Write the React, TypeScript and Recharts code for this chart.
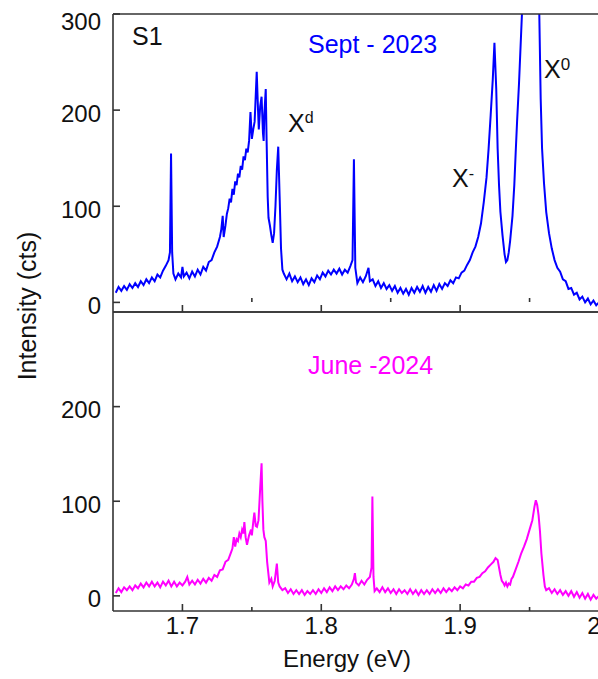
import { LineChart, Line, XAxis, YAxis } from 'recharts'

const FONT = '"Liberation Sans", Arial, sans-serif'
const AXIS = '#333'

// Sept 2023 spectrum, [energy (eV), intensity (cts)]
const sept2023: [number, number][] = [
  [1.652, 10], [1.654, 16], [1.656, 12], [1.658, 17], [1.66, 13], [1.662, 19], [1.664, 15], [1.666, 20],
  [1.668, 16], [1.67, 22], [1.672, 18], [1.674, 24], [1.676, 20], [1.678, 26], [1.68, 22], [1.682, 29],
  [1.684, 26], [1.686, 33], [1.688, 38], [1.69, 44], [1.691, 52], [1.6918, 155], [1.6926, 52], [1.6935, 30],
  [1.695, 24], [1.697, 30], [1.699, 26], [1.7, 37], [1.701, 27], [1.703, 31], [1.705, 25], [1.707, 32],
  [1.709, 27], [1.711, 34], [1.713, 29], [1.715, 37], [1.717, 33], [1.719, 42], [1.721, 44], [1.723, 52],
  [1.725, 58], [1.727, 68], [1.728, 76], [1.729, 90], [1.7297, 68], [1.731, 80], [1.732, 92], [1.733, 98],
  [1.734, 108], [1.735, 104], [1.736, 118], [1.737, 112], [1.738, 126], [1.739, 122], [1.74, 134], [1.741, 130],
  [1.742, 142], [1.743, 138], [1.744, 152], [1.745, 148], [1.746, 160], [1.747, 156], [1.748, 168], [1.749, 198],
  [1.75, 170], [1.751, 180], [1.752, 188], [1.7525, 205], [1.7535, 240], [1.7545, 198], [1.755, 180], [1.756, 204],
  [1.757, 214], [1.758, 176], [1.7585, 168], [1.759, 196], [1.76, 222], [1.7606, 170], [1.7614, 110], [1.762, 88],
  [1.763, 80], [1.764, 70], [1.765, 62], [1.766, 72], [1.767, 100], [1.768, 138], [1.769, 162], [1.77, 110],
  [1.771, 56], [1.772, 34], [1.773, 30], [1.775, 24], [1.777, 30], [1.779, 22], [1.781, 27], [1.783, 21],
  [1.785, 26], [1.787, 19], [1.789, 24], [1.791, 18], [1.793, 25], [1.795, 21], [1.797, 28], [1.799, 24],
  [1.801, 31], [1.803, 27], [1.805, 33], [1.807, 29], [1.809, 34], [1.811, 30], [1.813, 35], [1.815, 29],
  [1.817, 34], [1.819, 31], [1.821, 38], [1.8225, 44], [1.8235, 149], [1.8245, 36], [1.826, 20], [1.828, 26],
  [1.83, 21], [1.832, 27], [1.834, 36], [1.835, 22], [1.837, 24], [1.839, 17], [1.841, 22], [1.843, 15],
  [1.845, 20], [1.847, 14], [1.849, 18], [1.851, 12], [1.853, 17], [1.855, 10], [1.857, 15], [1.859, 9],
  [1.861, 14], [1.863, 8], [1.865, 15], [1.867, 10], [1.869, 16], [1.871, 11], [1.873, 17], [1.875, 10],
  [1.877, 16], [1.879, 11], [1.881, 18], [1.883, 12], [1.885, 19], [1.887, 14], [1.889, 20], [1.891, 17],
  [1.893, 23], [1.895, 20], [1.897, 26], [1.899, 25], [1.901, 31], [1.903, 33], [1.905, 39], [1.907, 44],
  [1.909, 52], [1.911, 58], [1.913, 68], [1.915, 82], [1.917, 104], [1.919, 130], [1.9205, 160], [1.922, 195],
  [1.9235, 232], [1.9247, 270], [1.926, 222], [1.927, 160], [1.928, 122], [1.929, 94], [1.9305, 70], [1.932, 50],
  [1.933, 42], [1.934, 44], [1.935, 52], [1.936, 64], [1.9377, 90], [1.939, 122], [1.94, 156], [1.941, 188],
  [1.9424, 228], [1.9448, 310], [1.947, 370], [1.949, 405], [1.951, 415], [1.953, 405], [1.955, 370], [1.957, 300],
  [1.958, 212], [1.959, 160], [1.9604, 124], [1.962, 94], [1.964, 72], [1.966, 56], [1.968, 44], [1.97, 36],
  [1.972, 32], [1.974, 24], [1.976, 22], [1.978, 14], [1.98, 15], [1.982, 8], [1.984, 10], [1.986, 3],
  [1.988, 6], [1.99, 0], [1.992, 4], [1.994, -2], [1.996, 2], [1.998, -3], [2.0, 0],
]

// June 2024 spectrum, [energy (eV), intensity (cts)]
const june2024: [number, number][] = [
  [1.652, 3], [1.654, 8], [1.656, 4], [1.658, 9], [1.66, 6], [1.662, 10], [1.664, 6], [1.666, 11],
  [1.668, 8], [1.67, 13], [1.672, 9], [1.674, 14], [1.676, 10], [1.678, 15], [1.68, 10], [1.682, 14],
  [1.684, 9], [1.686, 15], [1.688, 11], [1.69, 16], [1.692, 10], [1.694, 15], [1.696, 10], [1.698, 14],
  [1.7, 11], [1.702, 15], [1.7035, 20], [1.705, 12], [1.707, 16], [1.709, 12], [1.711, 17], [1.713, 13],
  [1.715, 18], [1.717, 14], [1.719, 19], [1.721, 16], [1.723, 22], [1.725, 20], [1.727, 27], [1.729, 28],
  [1.731, 36], [1.733, 38], [1.735, 46], [1.736, 50], [1.737, 62], [1.738, 52], [1.739, 60], [1.74, 58],
  [1.741, 66], [1.742, 62], [1.743, 70], [1.744, 66], [1.7446, 78], [1.7455, 62], [1.7465, 54], [1.748, 64],
  [1.7494, 70], [1.75, 64], [1.751, 78], [1.7518, 88], [1.7528, 74], [1.7537, 73], [1.7548, 80], [1.756, 114],
  [1.757, 140], [1.7576, 100], [1.7583, 70], [1.759, 62], [1.76, 58], [1.761, 36], [1.7626, 14], [1.764, 18],
  [1.765, 10], [1.7665, 16], [1.768, 34], [1.769, 14], [1.77, 10], [1.772, 6], [1.774, 8], [1.776, 3],
  [1.778, 7], [1.78, 2], [1.782, 6], [1.784, 2], [1.786, 6], [1.788, 1], [1.79, 5], [1.792, 2],
  [1.794, 6], [1.796, 2], [1.798, 7], [1.8, 3], [1.802, 8], [1.804, 4], [1.806, 9], [1.808, 5],
  [1.81, 10], [1.812, 6], [1.814, 10], [1.816, 7], [1.818, 11], [1.82, 8], [1.822, 12], [1.8235, 18],
  [1.8242, 24], [1.825, 14], [1.827, 11], [1.829, 16], [1.831, 12], [1.833, 17], [1.835, 20], [1.8362, 30],
  [1.8368, 105], [1.8376, 20], [1.8384, 5], [1.84, 8], [1.842, 4], [1.844, 9], [1.846, 4], [1.848, 8],
  [1.85, 3], [1.852, 7], [1.854, 2], [1.856, 7], [1.858, 3], [1.86, 6], [1.862, 2], [1.864, 7],
  [1.866, 2], [1.868, 6], [1.87, 1], [1.872, 6], [1.874, 2], [1.876, 6], [1.878, 2], [1.88, 7],
  [1.882, 3], [1.884, 7], [1.886, 3], [1.888, 8], [1.89, 4], [1.892, 8], [1.894, 5], [1.896, 9],
  [1.898, 6], [1.9, 10], [1.902, 8], [1.904, 12], [1.906, 11], [1.908, 15], [1.91, 15], [1.912, 19],
  [1.914, 20], [1.916, 24], [1.918, 26], [1.92, 30], [1.922, 33], [1.924, 36], [1.9255, 40], [1.927, 38],
  [1.928, 30], [1.929, 22], [1.93, 16], [1.931, 14], [1.932, 11], [1.933, 14], [1.934, 10], [1.935, 13],
  [1.936, 12], [1.937, 18], [1.938, 20], [1.94, 28], [1.942, 36], [1.944, 45], [1.946, 52], [1.948, 60],
  [1.95, 70], [1.952, 80], [1.9535, 94], [1.9545, 101], [1.9555, 96], [1.9565, 85], [1.9575, 68], [1.9585, 45],
  [1.96, 22], [1.961, 10], [1.962, 6], [1.964, 8], [1.966, 3], [1.968, 7], [1.97, 2], [1.972, 6],
  [1.974, 1], [1.976, 5], [1.978, 0], [1.98, 5], [1.982, -1], [1.984, 4], [1.986, -2], [1.988, 3],
  [1.99, -3], [1.992, 2], [1.994, -4], [1.996, 1], [1.998, -3], [2.0, 0],
]

const energyDomain = [1.65, 2.0]
const energyTicks = [1.7, 1.8, 1.9, 2.0]
const energyMinorTicks = [1.75, 1.85, 1.95]
const topDomain = [-10, 300]
const topTicks = [0, 100, 200, 300]
const bottomDomain = [-16, 300]
const bottomTicks = [0, 100, 200]

const toRows = (pts: [number, number][]) => pts.map(([e, cts]) => ({ e, cts }))

const YTick = ({ x, y, payload }: any) => (
  <text
    x={x}
    y={y + (payload.value === 300 ? 7 : 3)}
    textAnchor="end"
    dominantBaseline="central"
    fontSize={24}
    fontFamily={FONT}
    fill="#111"
  >
    {payload.value}
  </text>
)

function Panel({ rows, color, domain, ticks, width, height, margin, showLabels }: any) {
  return (
    <LineChart width={width} height={height} data={rows} margin={margin}>
      {showLabels ? (
        <XAxis
          dataKey="e"
          type="number"
          domain={energyDomain}
          ticks={energyTicks}
          allowDataOverflow
          height={40}
          tickSize={-7}
          tickMargin={13}
          stroke={AXIS}
          strokeWidth={1.6}
          tick={{ fontSize: 24, fill: '#111', fontFamily: FONT }}
          tickFormatter={(v: number) => String(v)}
        />
      ) : (
        <XAxis
          dataKey="e"
          type="number"
          domain={energyDomain}
          ticks={energyTicks}
          allowDataOverflow
          mirror
          height={10}
          tickSize={7}
          stroke={AXIS}
          strokeWidth={1.6}
          tickFormatter={() => ''}
        />
      )}
      <XAxis
        xAxisId="minor"
        dataKey="e"
        type="number"
        domain={energyDomain}
        ticks={energyMinorTicks}
        allowDataOverflow
        mirror
        height={10}
        tickSize={4}
        axisLine={false}
        stroke={AXIS}
        strokeWidth={1.6}
        tickFormatter={() => ''}
      />
      <XAxis
        xAxisId="frame"
        orientation="top"
        dataKey="e"
        type="number"
        domain={energyDomain}
        allowDataOverflow
        mirror
        height={10}
        tick={false}
        tickLine={false}
        stroke={AXIS}
        strokeWidth={1.6}
      />
      <YAxis
        type="number"
        domain={domain}
        ticks={ticks}
        allowDataOverflow
        width={60}
        tickSize={-7}
        tickMargin={19}
        stroke={AXIS}
        strokeWidth={1.6}
        tick={<YTick />}
      />
      <YAxis
        yAxisId="frame"
        orientation="right"
        type="number"
        domain={domain}
        allowDataOverflow
        mirror
        width={10}
        tick={false}
        tickLine={false}
        stroke={AXIS}
        strokeWidth={1.6}
      />
      <Line
        dataKey="cts"
        stroke={color}
        strokeWidth={2}
        dot={false}
        type="linear"
        isAnimationActive={false}
      />
    </LineChart>
  )
}

export default function App() {
  return (
    <div style={{ position: 'absolute', left: 0, top: 0, width: 598, height: 679, overflow: 'hidden', background: '#fff' }}>
      <div style={{ position: 'absolute', left: 0, top: 300 }}>
        <Panel
          rows={toRows(june2024)}
          color="#ff00ff"
          domain={bottomDomain}
          ticks={bottomTicks}
          width={600}
          height={379}
          margin={{ top: 12, right: 1, bottom: 28, left: 53 }}
          showLabels
        />
      </div>
      <div style={{ position: 'absolute', left: 0, top: 0 }}>
        <Panel
          rows={toRows(sept2023)}
          color="#0000ff"
          domain={topDomain}
          ticks={topTicks}
          width={600}
          height={330}
          margin={{ top: 14, right: 1, bottom: 18, left: 53 }}
          showLabels={false}
        />
      </div>
      <svg width={598} height={679} style={{ position: 'absolute', left: 0, top: 0, pointerEvents: 'none' }} fontFamily={FONT}>
        <text x={132} y={45} fontSize={25} fill="#111">S1</text>
        <text x={308} y={53} fontSize={25} fill="#0000ff">Sept - 2023</text>
        <text x={308} y={374} fontSize={25} fill="#ff00ff">June -2024</text>
        <text x={288} y={132} fontSize={25} fill="#111">
          X<tspan fontSize={16} dy={-9}>d</tspan>
        </text>
        <text x={452} y={187} fontSize={25} fill="#111">
          X<tspan fontSize={16} dy={-8}>-</tspan>
        </text>
        <text x={544} y={78} fontSize={25} fill="#111">
          X<tspan fontSize={17} dy={-8}>0</tspan>
        </text>
        <text x={347} y={667} fontSize={24} textAnchor="middle" fill="#111">Energy (eV)</text>
        <text transform="translate(36,306) rotate(-90)" fontSize={25} textAnchor="middle" fill="#111">
          Intensity (cts)
        </text>
      </svg>
    </div>
  )
}
